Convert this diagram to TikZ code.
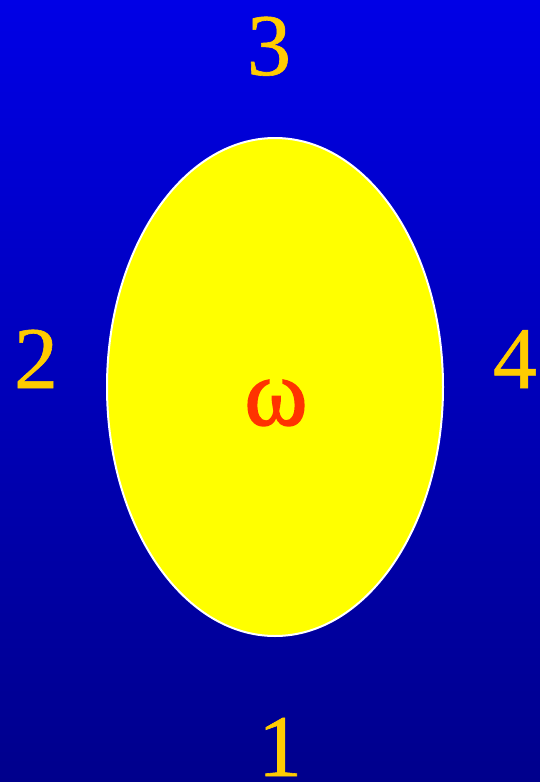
\documentclass[tikz,border=0pt]{standalone}
\usepackage{fontspec}
\setmainfont{Liberation Serif}
\newfontfamily\digitserif[FakeBold=0.7]{Liberation Serif}
\newfontfamily\greekserif[FakeBold=1.6]{Liberation Serif}
\usetikzlibrary{shapes.geometric}
\definecolor{skytop}{HTML}{0000E6}
\definecolor{skybot}{HTML}{00008C}
\definecolor{gold}{HTML}{FFCC00}
\definecolor{lemon}{HTML}{FFFF00}
\definecolor{scarlet}{HTML}{FF3300}
\tikzset{
  num/.style={anchor=base,inner sep=0pt,text=gold,font=\digitserif\fontsize{88}{88}\selectfont},
}

\begin{document}
\begin{tikzpicture}[x=1pt,y=-1pt]
\useasboundingbox (0,0) rectangle (540,782);
\shade[top color=skytop,bottom color=skybot] (0,0) rectangle (540,782);
\node[ellipse,draw=white,line width=2pt,fill=lemon,inner sep=0pt,
  minimum width=336pt,minimum height=498pt] (oval) at (275,387) {};
\node[anchor=base,inner sep=0pt,text=scarlet,font=\greekserif\fontsize{96}{96}\selectfont]
  (omega) at (276,425) {ω};
\node[num] (n3) at (269,75) {3};
\node[num] (n2) at (36,388) {2};
\node[num] (n4) at (515,388) {4};
\node[num] (n1) at (280,776) {1};
\end{tikzpicture}
\end{document}
